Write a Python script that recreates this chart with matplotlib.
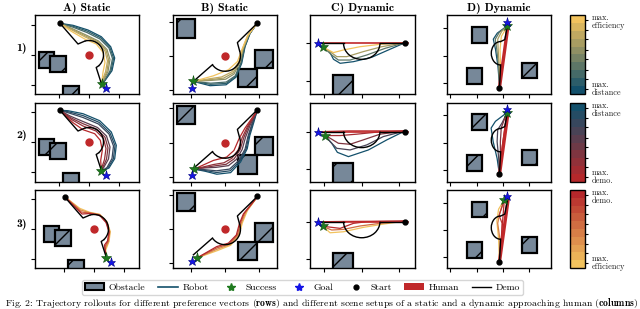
import matplotlib
matplotlib.use("Agg")
import matplotlib.pyplot as plt
import matplotlib.patches as mpatches
from matplotlib.lines import Line2D
from matplotlib.colors import LinearSegmentedColormap, Normalize
from matplotlib.cm import ScalarMappable

plt.rcParams['font.family'] = 'cmr10'
plt.rcParams['mathtext.fontset'] = 'cm'
plt.rcParams['axes.formatter.use_mathtext'] = True
plt.rcParams['hatch.linewidth'] = 1.0

TEAL = '#13506b'
YELLOW = '#f2c35e'
RED = '#b5282b'
HUMAN_RED = '#c0282a'
GREEN = '#1f7a1f'
BLUE = '#1414e6'
OBST_FACE = '#778899'

TITLES = ["A) Static", "B) Static", "C) Dynamic", "D) Dynamic"]
ROW_LABELS = ["1)", "2)", "3)"]
# colour at preference value 0 and 1 for each row
ROW_CMAPS = [(TEAL, YELLOW), (RED, TEAL), (YELLOW, RED)]
ROW_CB_TEXT = [("max.\nefficiency", "max.\ndistance"),
               ("max.\ndistance", "max.\ndemo."),
               ("max.\ndemo.", "max.\nefficiency")]
CB_TICKS = [0.06, 0.19, 0.31, 0.44, 0.56, 0.69, 0.81, 0.94]
CAPTION = ("Fig. 2: Trajectory rollouts for different preference vectors ($\\mathbf{rows}$) and different "
           "scene setups of a static and a dynamic approaching human ($\\mathbf{columns}$)")

# ---- column A: static human, three obstacles
A_XLIM = [(-5.4, 5.0), (-5.4, 5.0), (-5.9, 4.5)]
A_YLIM = [(-3.9, 4.0), (-4.0, 3.9), (-3.9, 3.9)]
A_XTICKS = [-3, 0, 3]
A_YTICKS = [-3, 0, 3]
A_OBST = [(-4.25, -0.5), (-3.1, -0.9), (-1.8, -3.85)]
A_OBST_SIZE = 1.55
A_HUMAN = (0.0, 0.0)
A_START = (-2.93, 3.2)
A_GOAL = (1.65, -3.3)
A_SUCCESS = [(1.25, -2.9), (1.23, -2.93), (1.23, -2.93)]
A_DEMO_IN = [(-2.93, 3.2), (-1.1, 1.1), (-0.42, 1.39)]
A_DEMO_ARC = (0.0, 0.0, 2.9, 2.9, -48, 107)
A_DEMO_OUT = [(0.97, -1.08), (0.72, -1.25), (1.25, -2.9)]
A1_TRAJ = [
    (0.0, [(-2.93, 3.17), (-1.6, 2.97), (-0.1, 2.5), (1.23, 1.83), (2.17, 0.83), (2.57, -0.3), (2.3, -1.57), (1.47, -2.73), (1.25, -2.9)]),
    (0.12, [(-2.93, 3.17), (-1.62, 2.88), (-0.15, 2.38), (1.17, 1.72), (2.08, 0.77), (2.46, -0.32), (2.2, -1.58), (1.46, -2.72), (1.25, -2.9)]),
    (0.25, [(-2.93, 3.17), (-1.65, 2.8), (-0.2, 2.25), (1.1, 1.6), (2.0, 0.7), (2.35, -0.35), (2.1, -1.6), (1.45, -2.7), (1.25, -2.9)]),
    (0.5, [(-2.93, 3.17), (-1.7, 2.65), (-0.3, 2.0), (0.95, 1.4), (1.8, 0.55), (2.1, -0.45), (1.9, -1.65), (1.4, -2.65), (1.25, -2.9)]),
    (0.62, [(-2.93, 3.17), (-1.71, 2.57), (-0.34, 1.9), (0.9, 1.32), (1.7, 0.48), (1.97, -0.52), (1.78, -1.67), (1.35, -2.62), (1.25, -2.9)]),
    (0.75, [(-2.93, 3.17), (-1.72, 2.5), (-0.38, 1.8), (0.85, 1.25), (1.6, 0.4), (1.85, -0.6), (1.65, -1.7), (1.3, -2.6), (1.25, -2.9)]),
    (1.0, [(-2.93, 3.17), (-1.77, 2.37), (-0.43, 1.6), (0.73, 1.1), (1.4, 0.27), (1.6, -0.73), (1.4, -1.73), (1.25, -2.9)]),
]
A2_TRAJ = [
    (1.0, [(-2.93, 3.17), (-2.1, 3.13), (-0.6, 2.83), (1.07, 2.13), (2.23, 1.0), (2.73, -0.33), (2.57, -1.67), (2.0, -2.6), (1.23, -2.93)]),
    (0.88, [(-2.93, 3.17), (-2.05, 3.02), (-0.6, 2.64), (1.0, 1.97), (2.1, 0.9), (2.6, -0.37), (2.44, -1.66), (1.9, -2.58), (1.23, -2.93)]),
    (0.75, [(-2.93, 3.17), (-2.0, 2.9), (-0.6, 2.45), (0.95, 1.8), (2.0, 0.8), (2.45, -0.4), (2.3, -1.65), (1.8, -2.55), (1.23, -2.93)]),
    (0.5, [(-2.93, 3.17), (-1.9, 2.6), (-0.6, 2.05), (0.85, 1.45), (1.75, 0.6), (2.1, -0.5), (1.95, -1.7), (1.5, -2.5), (1.23, -2.93)]),
    (0.38, [(-2.93, 3.17), (-1.82, 2.42), (-0.6, 1.83), (0.78, 1.28), (1.6, 0.48), (1.9, -0.58), (1.75, -1.72), (1.4, -2.5), (1.23, -2.93)]),
    (0.25, [(-2.93, 3.17), (-1.75, 2.25), (-0.6, 1.6), (0.7, 1.1), (1.45, 0.35), (1.7, -0.65), (1.55, -1.75), (1.3, -2.5), (1.23, -2.93)]),
    (0.0, [(-2.93, 3.17), (-1.6, 1.93), (-0.6, 1.23), (0.57, 0.83), (1.13, 0.17), (1.33, -0.83), (1.17, -1.83), (1.23, -2.93)]),
]
A3_TRAJ = [
    (0.0, [(-2.93, 3.23), (-1.43, 2.07), (-0.43, 1.67), (0.57, 1.47), (1.3, 0.73), (1.63, -0.27), (1.5, -1.27), (1.17, -2.1), (1.23, -2.93)]),
    (0.33, [(-2.93, 3.23), (-1.35, 1.9), (-0.42, 1.63), (0.56, 1.44), (1.27, 0.7), (1.58, -0.28), (1.45, -1.25), (1.12, -2.0), (1.23, -2.93)]),
    (0.67, [(-2.93, 3.23), (-1.27, 1.7), (-0.41, 1.59), (0.56, 1.41), (1.23, 0.68), (1.54, -0.29), (1.4, -1.22), (1.08, -1.8), (1.23, -2.93)]),
    (1.0, [(-2.93, 3.23), (-1.2, 1.5), (-0.4, 1.55), (0.55, 1.38), (1.2, 0.65), (1.5, -0.3), (1.35, -1.2), (1.05, -1.6), (1.23, -2.93)]),
]

# ---- column B: static human, three obstacles
B_XLIM = [(-4.58, 4.52)] * 3
B_YLIM = [(-3.35, 3.6), (-3.43, 3.48), (-3.4, 3.45)]
B_XTICKS = [-3, 0, 3]
B_YTICKS = [-3, 0, 3]
B_OBST = [(-3.42, 2.42), (3.42, -0.28), (1.97, -1.91)]
B_OBST_SIZE = 1.6
B_HUMAN = (0.0, 0.0)
B_START = (2.82, 2.88)
B_GOAL = (-2.9, -2.78)
B_SUCCESS = [(-2.77, -2.24), (-2.7, -2.3), (-2.46, -2.52)]
B_DEMO_IN = [(2.82, 2.88), (1.08, 1.17), (1.27, 0.46)]
B_DEMO_ARC = (0.0, 0.0, 2.7, 2.7, -145, 20)
B_DEMO_OUT = [(-1.1, -0.77), (-2.77, -2.24)]
B1_TRAJ = [
    (0.0, [(2.83, 2.92), (2.19, 1.98), (1.75, 0.82), (1.46, -0.64), (0.96, -1.87), (0.09, -2.54), (-1.31, -2.62), (-2.77, -2.24)]),
    (0.12, [(2.83, 2.92), (2.16, 1.95), (1.72, 0.78), (1.42, -0.62), (0.93, -1.81), (0.1, -2.42), (-1.28, -2.5), (-2.77, -2.24)]),
    (0.25, [(2.83, 2.92), (2.13, 1.92), (1.68, 0.75), (1.38, -0.6), (0.9, -1.75), (0.1, -2.3), (-1.25, -2.4), (-2.77, -2.24)]),
    (0.5, [(2.83, 2.92), (2.07, 1.86), (1.6, 0.68), (1.3, -0.57), (0.78, -1.6), (0.05, -2.05), (-1.2, -2.15), (-2.77, -2.24)]),
    (0.62, [(2.83, 2.92), (2.03, 1.83), (1.56, 0.64), (1.25, -0.55), (0.7, -1.5), (-0.12, -1.95), (-1.25, -2.08), (-2.77, -2.24)]),
    (0.75, [(2.83, 2.92), (2.0, 1.8), (1.53, 0.6), (1.2, -0.53), (0.6, -1.4), (-0.3, -1.85), (-1.3, -2.0), (-2.77, -2.24)]),
    (1.0, [(2.83, 2.92), (1.95, 1.75), (1.46, 0.52), (1.08, -0.5), (0.29, -1.22), (-1.02, -1.75), (-2.77, -2.24)]),
]
B2_TRAJ = [
    (1.0, [(2.81, 2.81), (2.52, 1.8), (2.17, 0.64), (1.94, -0.52), (1.36, -1.68), (0.49, -2.61), (-0.72, -2.75), (-1.74, -2.49), (-2.7, -2.3)]),
    (0.88, [(2.81, 2.81), (2.43, 1.72), (2.08, 0.6), (1.85, -0.53), (1.28, -1.62), (0.45, -2.45), (-0.73, -2.6), (-1.77, -2.42), (-2.7, -2.3)]),
    (0.75, [(2.81, 2.81), (2.35, 1.65), (2.0, 0.55), (1.75, -0.55), (1.2, -1.55), (0.4, -2.3), (-0.75, -2.45), (-1.8, -2.35), (-2.7, -2.3)]),
    (0.5, [(2.81, 2.81), (2.18, 1.5), (1.8, 0.5), (1.5, -0.58), (1.0, -1.45), (0.3, -2.0), (-0.8, -2.15), (-1.8, -2.2), (-2.7, -2.3)]),
    (0.38, [(2.81, 2.81), (2.06, 1.45), (1.65, 0.48), (1.32, -0.6), (0.8, -1.4), (0.1, -1.88), (-0.9, -2.02), (-2.7, -2.3)]),
    (0.25, [(2.81, 2.81), (1.95, 1.4), (1.5, 0.45), (1.15, -0.62), (0.6, -1.35), (-0.1, -1.75), (-1.0, -1.9), (-2.7, -2.3)]),
    (0.0, [(2.81, 2.81), (1.74, 1.28), (1.25, 0.41), (0.78, -0.67), (0.14, -1.25), (-1.01, -1.54), (-2.7, -2.3)]),
]
B3_TRAJ = [
    (0.0, [(2.83, 2.86), (1.95, 1.63), (1.52, 0.58), (1.22, -0.5), (0.5, -1.4), (-0.67, -1.87), (-2.46, -2.52)]),
    (0.33, [(2.83, 2.86), (1.83, 1.53), (1.43, 0.55), (1.15, -0.5), (0.43, -1.34), (-0.69, -1.75), (-2.46, -2.52)]),
    (0.67, [(2.83, 2.86), (1.7, 1.43), (1.34, 0.51), (1.07, -0.5), (0.36, -1.28), (-0.71, -1.63), (-2.46, -2.52)]),
    (1.0, [(2.83, 2.86), (1.6, 1.34), (1.25, 0.47), (0.99, -0.5), (0.29, -1.22), (-0.73, -1.52), (-2.46, -2.52)]),
]

# ---- column C: human walking towards the robot, one obstacle
C_XLIM = [(-4.12, 4.24)] * 3
C_YLIM = [(-4.03, 2.25), (-4.0, 2.26), (-3.68, 2.52)]
C_XTICKS = [-3, 0, 3]
C_YTICKS = [-3, 0]
C_OBST = [(-1.46, -3.3)]
C_OBST_SIZE = 1.6
C_HUMAN = [(-3.45, 0.0), (3.7, 0.0)]
C_START = (3.45, 0.0)
C_GOAL = (-3.45, 0.0)
C_SUCCESS = [(-3.05, -0.32), (-2.92, -0.32), (-3.05, -0.34)]
C_DEMO_IN = [(3.45, 0.0), (1.45, 0.0)]
C_DEMO_ARC = (0.0, 0.0, 2.9, 2.55, 180, 360)
C_DEMO_OUT = [(-1.45, 0.0), (-3.45, 0.0)]
C1_TRAJ = [
    (0.0, [(3.45, 0.05), (2.12, -0.53), (0.8, -1.11), (-0.66, -1.46), (-1.72, -1.59), (-2.25, -1.27), (-2.57, -0.66), (-3.05, -0.32)]),
    (0.33, [(3.45, 0.05), (1.86, -0.4), (0.4, -0.93), (-0.93, -1.33), (-1.86, -1.33), (-2.39, -0.93), (-3.05, -0.32)]),
    (0.67, [(3.45, 0.05), (1.59, -0.27), (0.13, -0.66), (-1.19, -1.06), (-1.99, -1.06), (-2.52, -0.66), (-3.05, -0.32)]),
    (1.0, [(3.45, 0.05), (1.46, -0.08), (-0.13, -0.27), (-1.46, -0.53), (-2.25, -0.74), (-3.05, -0.32)]),
]
C2_TRAJ = [
    (1.0, [(3.45, 0.05), (2.0, -0.66), (0.53, -1.46), (-1.06, -1.99), (-1.94, -1.65), (-2.39, -0.93), (-2.92, -0.32)]),
    (0.67, [(3.45, 0.05), (1.72, -0.4), (0.4, -1.06), (-0.93, -1.46), (-1.99, -1.33), (-2.52, -0.8), (-2.92, -0.32)]),
    (0.33, [(3.45, 0.05), (1.46, -0.21), (0.13, -0.66), (-0.93, -1.01), (-1.86, -0.93), (-2.52, -0.53), (-2.92, -0.32)]),
    (0.1, [(3.45, 0.05), (1.19, -0.05), (-0.4, -0.21), (-1.72, -0.32), (-2.92, -0.32)]),
    (0.0, [(3.45, 0.05), (-1.0, 0.05), (-2.92, 0.0)]),
]
C3_TRAJ = [
    (0.0, [(3.45, 0.05), (1.72, -0.19), (0.13, -0.45), (-1.46, -0.8), (-2.52, -0.88), (-3.05, -0.4)]),
    (0.5, [(3.45, 0.05), (1.46, -0.13), (-0.13, -0.34), (-1.46, -0.61), (-2.39, -0.66), (-3.05, -0.4)]),
    (0.9, [(3.45, 0.05), (0.4, 0.0), (-0.66, -0.13), (-1.72, -0.53), (-2.79, -0.4), (-3.05, -0.34)]),
    (1.0, [(3.45, 0.05), (-1.46, 0.02), (-3.2, 0.0)]),
]

# ---- column D: human walking along the robot's path, three obstacles
D_XLIM = [(-6.36, 5.45)] * 3
D_YLIM = [(-4.19, 4.44), (-4.33, 4.34), (-4.19, 4.41)]
D_XTICKS = [-6, -3, 0, 3]
D_YTICKS = [-3, 0, 3]
D_OBST = [(-2.64, 2.28), (-3.21, -2.22), (3.06, -1.64)]
D_OBST_SIZE = 1.7
D_HUMAN = [(-0.4, -3.48), (0.6, 3.5)]
D_START = (-0.4, -3.48)
D_GOAL = (0.47, 3.7)
D_SUCCESS = [(0.49, 3.2), (0.45, 3.26), (0.15, 3.33)]
D_DEMO_IN = [(-0.4, -3.48), (-0.27, -1.02)]
D_DEMO_ARC = (-0.27, 0.26, 2.12, 2.56, 90, 270)
D_DEMO_OUT = [(-0.27, 1.54), (0.2, 1.75), (0.49, 3.2)]
D1_TRAJ = [
    (0.0, [(-0.38, -3.49), (-0.57, -1.21), (-0.84, 0.63), (-1.1, 1.8), (-0.65, 2.46), (0.3, 3.13), (0.49, 3.2)]),
    (0.33, [(-0.38, -3.49), (-0.5, -1.21), (-0.7, 0.63), (-0.88, 1.8), (-0.42, 2.55), (0.49, 3.2)]),
    (0.67, [(-0.38, -3.49), (-0.42, -1.21), (-0.55, 0.63), (-0.6, 1.8), (-0.15, 2.65), (0.49, 3.2)]),
    (1.0, [(-0.38, -3.49), (-0.27, -1.21), (-0.34, 0.63), (-0.19, 2.1), (0.49, 3.2)]),
]
D2_TRAJ = [
    (1.0, [(-0.41, -3.48), (-0.67, -1.74), (-1.12, 0.11), (-1.35, 1.59), (-0.86, 2.33), (0.26, 3.15), (0.45, 3.26)]),
    (0.67, [(-0.41, -3.48), (-0.49, -1.74), (-0.67, 0.11), (-0.6, 1.41), (-0.11, 2.15), (0.45, 3.26)]),
    (0.33, [(-0.41, -3.48), (-0.3, -1.74), (-0.3, 0.11), (-0.2, 1.6), (0.1, 2.4), (0.45, 3.26)]),
    (0.0, [(-0.41, -3.48), (-0.07, -0.3), (0.45, 3.26)]),
]
D3_TRAJ = [
    (0.0, [(-0.41, -3.44), (-0.5, -1.0), (-0.7, 1.0), (-0.5, 2.3), (0.15, 3.33)]),
    (0.4, [(-0.41, -3.44), (-0.34, -1.1), (-0.6, 0.74), (-0.37, 1.85), (0.0, 3.0), (0.15, 3.33)]),
    (0.8, [(-0.41, -3.44), (-0.15, -1.1), (-0.1, 0.74), (-0.45, 1.6), (-0.1, 2.6), (0.15, 3.33)]),
    (1.0, [(-0.41, -3.44), (0.15, 3.33)]),
]

# layout (pixel boxes of the 640x309 canvas)
COL_X = [(35, 139), (172.7, 276.7), (310, 415), (447, 551)]
ROW_Y = [(15, 94), (103, 182), (190, 268)]
CB_X = (570, 585)
W, H = 640, 309


def rect(xs, ys):
    return [xs[0] / W, 1 - ys[1] / H, (xs[1] - xs[0]) / W, (ys[1] - ys[0]) / H]


def xy(pts):
    return [p[0] for p in pts], [p[1] for p in pts]


def draw_demo(ax, pts_in, arc, pts_out):
    ax.plot(*xy(pts_in), color='k', lw=1.0, zorder=5)
    cx, cy, w, h, t1, t2 = arc
    ax.add_patch(mpatches.Arc((cx, cy), w, h, theta1=t1, theta2=t2,
                              color='k', lw=1.0, zorder=5))
    ax.plot(*xy(pts_out), color='k', lw=1.0, zorder=5)


COLUMNS = [
    dict(xlim=A_XLIM, ylim=A_YLIM, xt=A_XTICKS, yt=A_YTICKS, obst=A_OBST, size=A_OBST_SIZE,
         human=A_HUMAN, start=A_START, goal=A_GOAL, success=A_SUCCESS,
         demo=(A_DEMO_IN, A_DEMO_ARC, A_DEMO_OUT), traj=[A1_TRAJ, A2_TRAJ, A3_TRAJ]),
    dict(xlim=B_XLIM, ylim=B_YLIM, xt=B_XTICKS, yt=B_YTICKS, obst=B_OBST, size=B_OBST_SIZE,
         human=B_HUMAN, start=B_START, goal=B_GOAL, success=B_SUCCESS,
         demo=(B_DEMO_IN, B_DEMO_ARC, B_DEMO_OUT), traj=[B1_TRAJ, B2_TRAJ, B3_TRAJ]),
    dict(xlim=C_XLIM, ylim=C_YLIM, xt=C_XTICKS, yt=C_YTICKS, obst=C_OBST, size=C_OBST_SIZE,
         human=C_HUMAN, start=C_START, goal=C_GOAL, success=C_SUCCESS,
         demo=(C_DEMO_IN, C_DEMO_ARC, C_DEMO_OUT), traj=[C1_TRAJ, C2_TRAJ, C3_TRAJ]),
    dict(xlim=D_XLIM, ylim=D_YLIM, xt=D_XTICKS, yt=D_YTICKS, obst=D_OBST, size=D_OBST_SIZE,
         human=D_HUMAN, start=D_START, goal=D_GOAL, success=D_SUCCESS,
         demo=(D_DEMO_IN, D_DEMO_ARC, D_DEMO_OUT), traj=[D1_TRAJ, D2_TRAJ, D3_TRAJ]),
]

fig = plt.figure(figsize=(6.4, 3.09), dpi=100)
cmaps = [LinearSegmentedColormap.from_list("row%d" % r, ROW_CMAPS[r], N=10) for r in range(3)]

for c, col in enumerate(COLUMNS):
    for r in range(3):
        ax = fig.add_axes(rect(COL_X[c], ROW_Y[r]))
        for o in col['obst']:
            s = col['size']
            ax.add_patch(mpatches.Rectangle((o[0] - s / 2, o[1] - s / 2), s, s,
                                            facecolor=OBST_FACE, edgecolor='k',
                                            lw=1.6, hatch='/', zorder=2))
        for t, pts in col['traj'][r]:
            ax.plot(*xy(pts), color=cmaps[r](t), lw=0.9, zorder=3)
        h = col['human']
        if isinstance(h, tuple):
            ax.plot(h[0], h[1], 'o', color=HUMAN_RED, ms=5, zorder=4)
        elif c == 2:
            ax.plot(*xy(h), color=HUMAN_RED, lw=1.2, zorder=4)
        else:
            ax.plot(*xy(h), color=HUMAN_RED, lw=2.4, zorder=4)
        draw_demo(ax, *col['demo'])
        ax.plot(col['start'][0], col['start'][1], 'o', color='k', ms=3.5, zorder=6)
        sx, sy = col['success'][r]
        ax.plot(sx, sy, '*', color=GREEN, ms=8, mec='#0d4d0d', mew=0.4, zorder=7)
        ax.plot(col['goal'][0], col['goal'][1], '*', color=BLUE, ms=6.5, mec='#000080',
                mew=0.4, zorder=8)
        ax.set_xlim(*col['xlim'][r])
        ax.set_ylim(*col['ylim'][r])
        ax.set_xticks(col['xt'])
        ax.set_yticks(col['yt'])
        ax.tick_params(labelbottom=False, labelleft=False, length=3, width=0.8)
        for sp in ax.spines.values():
            sp.set_linewidth(1.0)
        if r == 0:
            ax.set_title(TITLES[c], fontsize=8.5, family='cmb10', pad=3)

for r in range(3):
    fig.text(21.7 / W, 1 - [49, 135.7, 224][r] / H, ROW_LABELS[r], family='cmb10',
             fontsize=8.5, ha='center', va='center')
    cax = fig.add_axes(rect(CB_X, ROW_Y[r]))
    cb = fig.colorbar(ScalarMappable(norm=Normalize(0, 1), cmap=cmaps[r]), cax=cax)
    cb.set_ticks(CB_TICKS)
    cb.ax.tick_params(labelright=False, length=2.5, width=0.8)
    cb.outline.set_linewidth(1.0)
    top, bottom = ROW_CB_TEXT[r]
    fig.text(592 / W, 1 - (ROW_Y[r][0] - 1.5) / H, top, fontsize=6, ha='left', va='top',
             linespacing=1.0, color='#222222')
    fig.text(592 / W, 1 - (ROW_Y[r][1] + 3) / H, bottom, fontsize=6, ha='left', va='bottom',
             linespacing=1.0, color='#222222')

handles = [
    mpatches.Patch(facecolor=OBST_FACE, edgecolor='k', hatch='/', lw=1.5, label='Obstacle'),
    Line2D([], [], color=TEAL, lw=1.2, label='Robot'),
    Line2D([], [], ls='', marker='*', color=GREEN, ms=6, label='Success'),
    Line2D([], [], ls='', marker='*', color=BLUE, ms=6, label='Goal'),
    Line2D([], [], ls='', marker='o', color='k', ms=3.5, label='Start'),
    mpatches.Patch(facecolor=HUMAN_RED, label='Human'),
    Line2D([], [], color='k', lw=1.0, label='Demo'),
]
fig.legend(handles=handles, loc='center', bbox_to_anchor=(302.5 / W, 1 - 287.5 / H),
           ncol=7, fontsize=7, frameon=True, handlelength=2.0, columnspacing=1.3,
           handletextpad=0.5, borderpad=0.3, borderaxespad=0)

fig.text(638 / W, 1 - 306 / H, CAPTION, fontsize=7.0, ha='right', va='baseline')

fig.savefig("out.png", dpi=100)
